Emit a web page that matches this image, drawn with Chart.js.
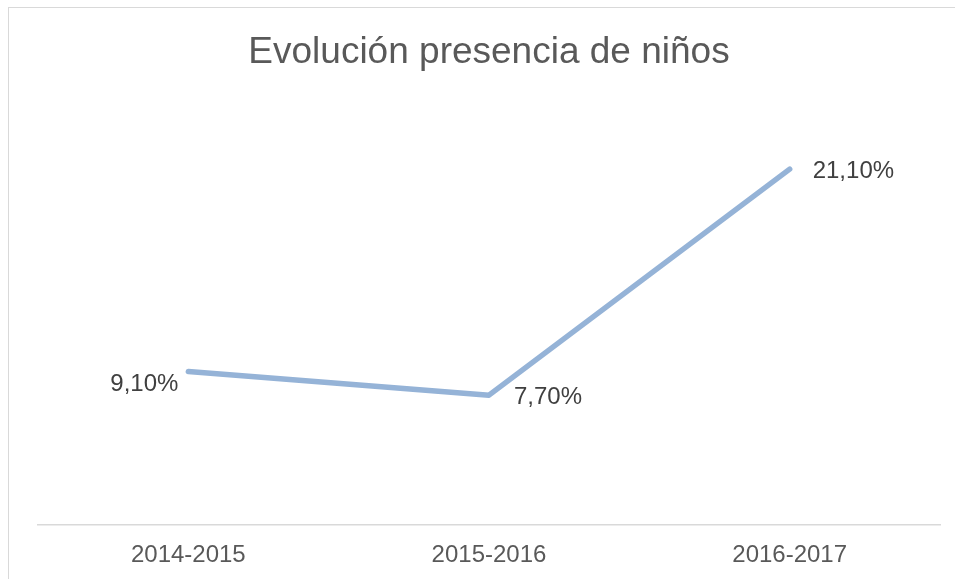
<!DOCTYPE html>
<html>
<head>
<meta charset="utf-8">
<script src="https://cdn.jsdelivr.net/npm/chart.js@4/dist/chart.umd.min.js"></script>
<style>
  html, body { margin: 0; padding: 0; background: #ffffff; }
  #wrap { position: relative; width: 955px; height: 579px; }
</style>
</head>
<body>
<div id="wrap"><canvas id="c" width="955" height="579"></canvas></div>
<script>
const categories = ["2014-2015", "2015-2016", "2016-2017"];
const presenciaNinos = [9.1, 7.7, 21.1];
const chartTitle = "Evolución presencia de niños";

const FONT = "'Liberation Sans', Arial, Helvetica, sans-serif";

function fmt(v) {
  return v.toFixed(2).replace('.', ',') + '%';
}

// label placement styles (not data)
const labelPlacement = [
  { align: 'right', dx: -10, dy: 13 },
  { align: 'left', dx: 25, dy: 2 },
  { align: 'left', dx: 23, dy: 2 }
];

const frameAndLabels = {
  id: 'frameAndLabels',
  beforeDraw(chart) {
    const ctx = chart.ctx;
    ctx.save();
    ctx.strokeStyle = '#D9D9D9';
    ctx.lineWidth = 1;
    ctx.strokeRect(8.5, 7.5, 1200, 1200);
    ctx.restore();
  },
  afterDatasetsDraw(chart) {
    const ctx = chart.ctx;
    const meta = chart.getDatasetMeta(0);
    ctx.save();
    ctx.font = '24px ' + FONT;
    ctx.fillStyle = '#404040';
    ctx.textBaseline = 'middle';
    meta.data.forEach((pt, i) => {
      const p = labelPlacement[i];
      ctx.textAlign = p.align;
      ctx.fillText(fmt(presenciaNinos[i]), pt.x + p.dx, pt.y + p.dy);
    });
    ctx.restore();
  }
};

new Chart(document.getElementById('c'), {
  type: 'line',
  data: {
    labels: categories,
    datasets: [{
      data: presenciaNinos,
      borderColor: '#95B3D7',
      borderWidth: 5.5,
      borderCapStyle: 'round',
      borderJoinStyle: 'round',
      pointRadius: 0,
      pointHoverRadius: 0,
      tension: 0,
      fill: false
    }]
  },
  options: {
    responsive: false,
    animation: false,
    devicePixelRatio: 1,
    layout: { padding: { left: 38, right: 15, top: 0, bottom: 0 } },
    plugins: {
      legend: { display: false },
      tooltip: { enabled: false },
      title: {
        display: true,
        text: chartTitle,
        color: '#595959',
        font: { family: FONT, size: 37, weight: 'normal', lineHeight: 1.2 },
        padding: { top: 31, bottom: 28 }
      }
    },
    scales: {
      x: {
        offset: true,
        grid: { display: false, drawTicks: false },
        border: { display: true, color: '#D9D9D9', width: 1.5 },
        ticks: {
          color: '#595959',
          padding: 16,
          maxRotation: 0,
          font: { family: FONT, size: 24, lineHeight: 1.2 }
        },
        afterFit(scale) { scale.height = 54; }
      },
      y: {
        display: false,
        min: 0,
        max: 25
      }
    }
  },
  plugins: [frameAndLabels]
});
</script>
</body>
</html>
